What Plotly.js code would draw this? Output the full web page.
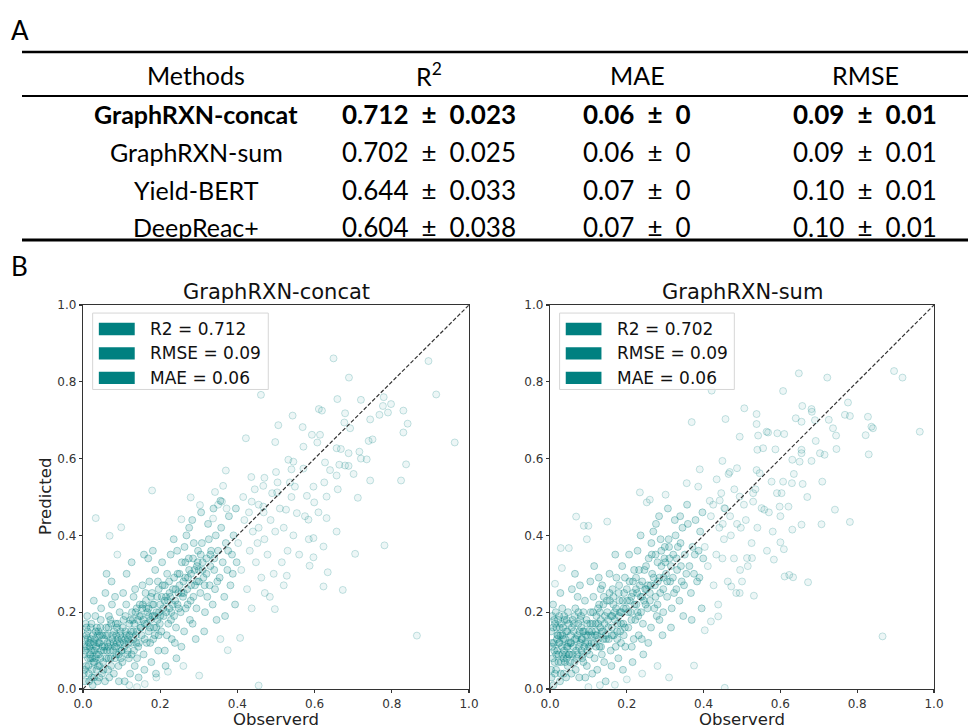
<!DOCTYPE html>
<html>
<head>
<meta charset="utf-8">
<script src="https://cdn.plot.ly/plotly-3.0.1.min.js"></script>
<style>html,body{margin:0;padding:0;background:#fff;}#chart{width:968px;height:728px;}</style>
</head>
<body>
<div id="chart"></div>
<script>
// ---------- Table A data ----------
const methods = ['GraphRXN-concat', 'GraphRXN-sum', 'Yield-BERT', 'DeepReac+'];
const r2Mean = [0.712, 0.702, 0.644, 0.604];
const r2Std = [0.023, 0.025, 0.033, 0.038];
const maeMean = [0.06, 0.06, 0.07, 0.07];
const maeStd = [0, 0, 0, 0];
const rmseMean = [0.09, 0.09, 0.10, 0.10];
const rmseStd = [0.01, 0.01, 0.01, 0.01];
const tableHeaders = ['Methods', 'R<sup>2</sup>', 'MAE', 'RMSE'];

// ---------- Panel B data ----------
const panelTitles = ['GraphRXN-concat', 'GraphRXN-sum'];
const concatStats = ['R2 = 0.712', 'RMSE = 0.09', 'MAE = 0.06'];
const sumStats = ['R2 = 0.702', 'RMSE = 0.09', 'MAE = 0.06'];
const axisTicks = [0, 0.2, 0.4, 0.6, 0.8, 1.0];
const diagonal = [0, 1];
const xTitle = 'Observerd';
const yTitle = 'Predicted';

const concatCore = [
[0.005,0.02],[0.008,0.06],[0.01,0.11],[0.012,0.15],[0.015,0.04],[0.018,0.09],[0.02,0.13],[0.022,0.17],[0.025,0.01],[0.027,0.07],[0.03,0.10],[0.032,0.19],[0.035,0.05],[0.037,0.12],[0.04,0.15],[0.042,0.03],[0.045,0.08],[0.047,0.21],[0.05,0.11],[0.003,0.09],[0.006,0.13],[0.009,0.16],[0.013,0.08],[0.016,0.02],[0.019,0.12],[0.023,0.05],[0.026,0.14],[0.029,0.03],[0.033,0.08],[0.036,0.16],[0.039,0.06],[0.043,0.12],[0.046,0.18],[0.049,0.04],[0.004,0.05],[0.011,0.19],[0.021,0.10],[0.031,0.13],[0.041,0.09],[0.028,0.23],[0.015,0.12],[0.038,0.02],[0.044,0.14],[0.007,0.17],[0.024,0.08],[0.034,0.11],
[0.052,0.07],[0.055,0.13],[0.057,0.02],[0.06,0.16],[0.062,0.10],[0.065,0.05],[0.067,0.19],[0.07,0.12],[0.072,0.08],[0.075,0.22],[0.077,0.14],[0.08,0.04],[0.082,0.11],[0.085,0.17],[0.087,0.09],[0.09,0.13],[0.092,0.06],[0.095,0.20],[0.097,0.15],[0.099,0.10],[0.058,0.25],[0.063,0.14],[0.068,0.03],[0.073,0.17],[0.078,0.10],[0.083,0.24],[0.088,0.12],[0.093,0.02],[0.096,0.12],[0.054,0.10],[0.066,0.08],[0.086,0.14],[0.074,0.28],[0.061,0.30],
[0.10,0.13],[0.102,0.07],[0.105,0.18],[0.107,0.11],[0.11,0.15],[0.112,0.22],[0.115,0.09],[0.117,0.13],[0.12,0.17],[0.122,0.04],[0.125,0.12],[0.127,0.20],[0.13,0.15],[0.132,0.10],[0.135,0.26],[0.137,0.14],[0.14,0.08],[0.142,0.18],[0.145,0.12],[0.147,0.22],[0.149,0.16],[0.104,0.25],[0.109,0.13],[0.119,0.08],[0.124,0.15],[0.129,0.18],[0.134,0.06],[0.139,0.21],[0.144,0.03],[0.113,0.30],[0.126,0.33],[0.118,0.12],[0.138,0.12],[0.108,0.02],[0.131,0.24],
[0.15,0.19],[0.152,0.14],[0.155,0.22],[0.157,0.09],[0.16,0.17],[0.162,0.25],[0.165,0.12],[0.167,0.20],[0.17,0.15],[0.172,0.28],[0.175,0.18],[0.177,0.07],[0.18,0.22],[0.182,0.13],[0.185,0.19],[0.187,0.31],[0.19,0.16],[0.192,0.24],[0.195,0.10],[0.197,0.20],[0.154,0.27],[0.159,0.05],[0.164,0.21],[0.169,0.34],[0.174,0.12],[0.179,0.25],[0.184,0.16],[0.189,0.04],[0.194,0.28],[0.199,0.17],[0.158,0.35],[0.171,0.19],[0.181,0.36],[0.196,0.14],
[0.20,0.22],[0.203,0.15],[0.206,0.27],[0.209,0.19],[0.212,0.10],[0.215,0.24],[0.218,0.30],[0.221,0.17],[0.224,0.21],[0.227,0.35],[0.23,0.13],[0.233,0.26],[0.236,0.19],[0.239,0.23],[0.242,0.08],[0.245,0.30],[0.248,0.21],[0.205,0.33],[0.211,0.23],[0.217,0.14],[0.223,0.28],[0.229,0.20],[0.235,0.39],[0.241,0.16],[0.247,0.25],[0.214,0.06],[0.226,0.24],[0.238,0.12],[0.244,0.36],
[0.25,0.27],[0.253,0.20],[0.256,0.33],[0.259,0.24],[0.262,0.15],[0.265,0.29],[0.268,0.40],[0.271,0.22],[0.274,0.34],[0.277,0.18],[0.28,0.27],[0.283,0.44],[0.286,0.24],[0.289,0.31],[0.292,0.13],[0.295,0.28],[0.298,0.36],[0.255,0.11],[0.263,0.37],[0.272,0.29],[0.279,0.23],[0.287,0.38],[0.294,0.21],[0.261,0.25],[0.275,0.42],[0.284,0.17],[0.297,0.33],[0.266,0.21],
[0.30,0.31],[0.304,0.25],[0.308,0.38],[0.312,0.29],[0.316,0.20],[0.32,0.34],[0.324,0.43],[0.328,0.27],[0.332,0.36],[0.336,0.22],[0.34,0.31],[0.344,0.40],[0.348,0.28],[0.306,0.46],[0.314,0.15],[0.322,0.24],[0.33,0.32],[0.338,0.47],[0.346,0.18],[0.31,0.33],[0.326,0.39],[0.342,0.26],
[0.35,0.36],[0.354,0.29],[0.358,0.42],[0.362,0.33],[0.366,0.24],[0.37,0.38],[0.374,0.31],[0.378,0.45],[0.382,0.27],[0.386,0.35],[0.39,0.40],[0.394,0.22],[0.398,0.33],[0.356,0.49],[0.368,0.19],[0.376,0.36],[0.388,0.30],[0.396,0.47],
[0.002,0.04],[0.006,0.10],[0.009,0.14],[0.014,0.06],[0.017,0.11],[0.02,0.16],[0.023,0.03],[0.026,0.10],[0.03,0.07],[0.033,0.15],[0.036,0.09],[0.04,0.12],[0.043,0.06],[0.047,0.10],[0.05,0.14],[0.053,0.05],[0.056,0.11],[0.06,0.08],[0.063,0.12],[0.066,0.16],[0.07,0.10],[0.073,0.06],[0.076,0.13],[0.08,0.15],[0.083,0.08],[0.086,0.11],[0.09,0.17],[0.093,0.09],[0.096,0.14],[0.1,0.10],[0.103,0.16],[0.106,0.12],[0.11,0.19],[0.113,0.14],[0.116,0.10],[0.12,0.14],[0.123,0.18],[0.126,0.09],[0.13,0.13],[0.133,0.17],[0.136,0.20],[0.14,0.15],[0.143,0.11],[0.146,0.19],[0.15,0.16],[0.153,0.21],[0.156,0.18],[0.16,0.13],[0.163,0.23],[0.166,0.17],[0.17,0.21],[0.173,0.16],[0.176,0.24],[0.18,0.19],[0.183,0.22],[0.186,0.14],[0.19,0.20],[0.193,0.18],[0.196,0.26],[0.2,0.19],[0.204,0.24],[0.208,0.21],[0.212,0.27],[0.216,0.20],[0.22,0.23],[0.224,0.25],[0.228,0.18],[0.232,0.22],[0.236,0.29],[0.24,0.26],[0.245,0.22],[0.25,0.30],[0.255,0.25],[0.26,0.28],[0.265,0.33],[0.27,0.26],[0.275,0.31],[0.28,0.30],[0.285,0.34],[0.29,0.27],[0.295,0.32],[0.3,0.28],[0.305,0.35],[0.31,0.31],[0.315,0.27],[0.32,0.30],[0.33,0.35],[0.34,0.34],[0.012,0.13],[0.028,0.12],[0.045,0.16],[0.058,0.14],[0.071,0.18],[0.088,0.16],[0.098,0.08],[0.004,0.11],[0.019,0.08],[0.038,0.14],[0.065,0.11],[0.079,0.12]
];

// sparse outer points of the cloud
const concatSparse = [
[0.402,0.38],[0.41,0.31],[0.418,0.44],[0.425,0.26],[0.432,0.36],[0.44,0.41],[0.448,0.33],[0.455,0.48],[0.462,0.29],[0.47,0.39],[0.478,0.35],[0.486,0.44],[0.494,0.30],[0.415,0.50],[0.437,0.21],[0.452,0.38],[0.468,0.46],[0.484,0.24],[0.498,0.41],[0.445,0.52],
[0.12,0.01],[0.16,0.013],[0.19,0.03],[0.22,0.045],[0.301,0.035],[0.26,0.06],[0.14,0.005],[0.455,0.009],[0.375,0.101],[0.407,0.133],[0.356,0.130],
[0.649,0.861],[0.895,0.854],[0.689,0.811],[0.915,0.767],[0.461,0.766],[0.659,0.755],[0.72,0.753],[0.779,0.76],[0.798,0.742],[0.777,0.737],[0.611,0.729],[0.619,0.725],[0.83,0.725],[0.543,0.712],[0.679,0.718],[0.677,0.694],[0.768,0.714],[0.744,0.702],[0.841,0.691],[0.506,0.687],[0.569,0.682],[0.692,0.679],[0.83,0.668],[0.593,0.662],[0.614,0.662],[0.422,0.653],[0.498,0.643],[0.571,0.631],[0.74,0.646],[0.607,0.642],[0.963,0.642],[0.657,0.627],[0.668,0.625],[0.688,0.614],[0.716,0.618],[0.735,0.598],[0.532,0.597],[0.545,0.592],[0.627,0.59],[0.837,0.585],[0.664,0.584],[0.679,0.582],[0.688,0.581],[0.54,0.572],[0.571,0.574],[0.37,0.569],[0.5,0.565],[0.701,0.56],[0.657,0.556],[0.436,0.552],[0.504,0.538],[0.536,0.538],[0.744,0.543],[0.824,0.543],[0.625,0.538],[0.179,0.517],[0.363,0.529],[0.342,0.513],[0.467,0.529],[0.549,0.527],[0.597,0.527],[0.503,0.512],[0.58,0.503],[0.631,0.501],[0.279,0.499],[0.712,0.498],[0.35,0.48],[0.36,0.488],[0.372,0.47],[0.437,0.488],[0.467,0.475],[0.599,0.486],[0.526,0.467],[0.554,0.458],[0.303,0.479],[0.033,0.445],[0.255,0.442],[0.337,0.444],[0.631,0.445],[0.584,0.441],[0.657,0.41],[0.597,0.393],[0.781,0.374],[0.623,0.371],[0.705,0.352],[0.069,0.399],[0.099,0.421],[0.089,0.35],[0.597,0.343],[0.587,0.321],[0.528,0.295],[0.634,0.304],[0.623,0.267],[0.673,0.258],[0.471,0.25],[0.497,0.208],[0.865,0.139],
[0.52,0.42],[0.53,0.36],[0.51,0.47],[0.545,0.40],[0.56,0.35],[0.575,0.45],[0.515,0.33],[0.54,0.50],[0.49,0.51],[0.47,0.55],[0.585,0.39],[0.61,0.46],[0.64,0.57],[0.66,0.52],[0.72,0.60],[0.75,0.65],[0.79,0.72],[0.52,0.27],[0.455,0.42],[0.43,0.46]
];

const sumCore = [
[0.004,0.03],[0.007,0.08],[0.01,0.12],[0.013,0.17],[0.016,0.05],[0.019,0.10],[0.021,0.14],[0.024,0.19],[0.026,0.02],[0.029,0.07],[0.031,0.11],[0.034,0.16],[0.036,0.04],[0.039,0.13],[0.041,0.09],[0.044,0.18],[0.046,0.06],[0.048,0.12],[0.003,0.15],[0.006,0.11],[0.009,0.01],[0.012,0.07],[0.015,0.20],[0.018,0.13],[0.022,0.09],[0.025,0.16],[0.028,0.04],[0.032,0.21],[0.035,0.08],[0.038,0.18],[0.042,0.03],[0.045,0.15],[0.049,0.09],[0.011,0.18],[0.023,0.12],[0.033,0.14],[0.043,0.11],[0.027,0.25],[0.008,0.22],[0.037,0.10],[0.047,0.20],[0.017,0.16],
[0.051,0.09],[0.054,0.14],[0.056,0.04],[0.059,0.18],[0.061,0.11],[0.064,0.07],[0.066,0.21],[0.069,0.13],[0.071,0.09],[0.074,0.17],[0.076,0.03],[0.079,0.12],[0.081,0.19],[0.084,0.08],[0.086,0.15],[0.089,0.11],[0.091,0.23],[0.094,0.14],[0.096,0.06],[0.099,0.12],[0.057,0.26],[0.062,0.15],[0.067,0.05],[0.072,0.24],[0.077,0.15],[0.082,0.10],[0.087,0.20],[0.092,0.03],[0.097,0.17],[0.053,0.12],[0.068,0.10],[0.083,0.13],[0.065,0.30],[0.078,0.27],
[0.101,0.15],[0.103,0.09],[0.106,0.20],[0.108,0.12],[0.111,0.17],[0.113,0.24],[0.116,0.08],[0.118,0.14],[0.121,0.19],[0.123,0.05],[0.126,0.13],[0.128,0.22],[0.131,0.16],[0.133,0.11],[0.136,0.27],[0.138,0.15],[0.141,0.07],[0.143,0.19],[0.146,0.13],[0.148,0.23],[0.105,0.28],[0.11,0.04],[0.12,0.11],[0.125,0.17],[0.13,0.20],[0.135,0.09],[0.14,0.24],[0.145,0.02],[0.115,0.32],[0.127,0.29],[0.119,0.15],[0.139,0.13],[0.132,0.26],[0.107,0.14],
[0.151,0.18],[0.153,0.13],[0.156,0.23],[0.158,0.10],[0.161,0.16],[0.163,0.26],[0.166,0.14],[0.168,0.20],[0.171,0.11],[0.173,0.29],[0.176,0.17],[0.178,0.08],[0.181,0.23],[0.183,0.15],[0.186,0.20],[0.188,0.32],[0.191,0.17],[0.193,0.25],[0.196,0.11],[0.198,0.21],[0.155,0.30],[0.16,0.06],[0.165,0.22],[0.17,0.35],[0.175,0.13],[0.18,0.27],[0.185,0.12],[0.19,0.05],[0.195,0.29],[0.162,0.19],[0.179,0.19],[0.192,0.14],
[0.201,0.23],[0.204,0.16],[0.207,0.28],[0.21,0.20],[0.213,0.11],[0.216,0.25],[0.219,0.31],[0.222,0.18],[0.225,0.22],[0.228,0.36],[0.231,0.14],[0.234,0.27],[0.237,0.20],[0.24,0.24],[0.243,0.09],[0.246,0.31],[0.249,0.22],[0.206,0.35],[0.212,0.24],[0.218,0.13],[0.224,0.29],[0.23,0.19],[0.236,0.40],[0.242,0.17],[0.248,0.26],[0.215,0.07],[0.227,0.25],[0.239,0.13],
[0.251,0.26],[0.254,0.21],[0.257,0.34],[0.26,0.23],[0.263,0.16],[0.266,0.30],[0.269,0.41],[0.272,0.21],[0.275,0.35],[0.278,0.19],[0.281,0.28],[0.284,0.45],[0.287,0.25],[0.29,0.32],[0.293,0.14],[0.296,0.29],[0.299,0.37],[0.256,0.12],[0.264,0.38],[0.273,0.27],[0.28,0.22],[0.288,0.39],[0.295,0.20],[0.262,0.27],[0.276,0.43],[0.285,0.18],[0.298,0.34],
[0.302,0.30],[0.305,0.24],[0.309,0.39],[0.313,0.28],[0.317,0.21],[0.321,0.35],[0.325,0.44],[0.329,0.26],[0.333,0.37],[0.337,0.23],[0.341,0.32],[0.345,0.42],[0.349,0.27],[0.307,0.47],[0.315,0.16],[0.323,0.25],[0.331,0.31],[0.339,0.45],[0.347,0.19],[0.311,0.34],[0.327,0.40],[0.343,0.28],
[0.351,0.35],[0.355,0.30],[0.359,0.43],[0.363,0.32],[0.367,0.25],[0.371,0.37],[0.375,0.30],[0.379,0.44],[0.383,0.28],[0.387,0.36],[0.391,0.41],[0.395,0.21],[0.399,0.34],[0.357,0.48],[0.369,0.18],[0.377,0.35],[0.389,0.29],[0.397,0.46],
[0.003,0.05],[0.005,0.12],[0.008,0.16],[0.013,0.04],[0.016,0.09],[0.019,0.14],[0.022,0.07],[0.025,0.12],[0.029,0.17],[0.032,0.09],[0.035,0.13],[0.039,0.07],[0.042,0.15],[0.046,0.11],[0.049,0.17],[0.052,0.07],[0.055,0.12],[0.059,0.09],[0.062,0.17],[0.065,0.13],[0.069,0.08],[0.072,0.14],[0.075,0.11],[0.079,0.18],[0.082,0.13],[0.085,0.09],[0.089,0.15],[0.092,0.12],[0.095,0.18],[0.099,0.14],[0.102,0.11],[0.105,0.17],[0.109,0.15],[0.112,0.20],[0.115,0.12],[0.119,0.17],[0.122,0.14],[0.125,0.21],[0.129,0.11],[0.132,0.18],[0.135,0.15],[0.139,0.22],[0.142,0.17],[0.145,0.14],[0.149,0.20],[0.152,0.16],[0.155,0.25],[0.159,0.19],[0.162,0.14],[0.165,0.24],[0.169,0.18],[0.172,0.21],[0.175,0.15],[0.179,0.25],[0.182,0.20],[0.185,0.17],[0.189,0.23],[0.192,0.21],[0.195,0.16],[0.2,0.26],[0.204,0.20],[0.208,0.23],[0.212,0.18],[0.216,0.28],[0.22,0.22],[0.224,0.26],[0.228,0.20],[0.232,0.31],[0.236,0.24],[0.24,0.28],[0.245,0.23],[0.25,0.32],[0.255,0.27],[0.26,0.25],[0.265,0.35],[0.27,0.29],[0.275,0.24],[0.28,0.33],[0.285,0.29],[0.29,0.36],[0.295,0.26],[0.3,0.33],[0.305,0.28],[0.31,0.37],[0.315,0.32],[0.32,0.29],[0.33,0.34],[0.34,0.38],[0.011,0.10],[0.027,0.14],[0.044,0.08],[0.057,0.16],[0.074,0.20],[0.087,0.07],[0.097,0.10],[0.006,0.19],[0.021,0.18],[0.037,0.19],[0.064,0.19],[0.081,0.16]
];

const sumSparse = [
[0.403,0.37],[0.411,0.32],[0.419,0.45],[0.426,0.27],[0.433,0.35],[0.441,0.42],[0.449,0.34],[0.456,0.47],[0.463,0.28],[0.471,0.40],[0.479,0.34],[0.487,0.43],[0.495,0.31],[0.416,0.49],[0.438,0.22],[0.453,0.39],[0.469,0.45],[0.485,0.25],[0.497,0.42],[0.446,0.51],
[0.13,0.01],[0.169,0.011],[0.20,0.025],[0.24,0.04],[0.31,0.03],[0.28,0.06],[0.10,0.005],[0.455,0.003],[0.375,0.061],[0.438,0.189],[0.419,0.176],[0.403,0.153],
[0.648,0.822],[0.722,0.811],[0.896,0.828],[0.918,0.811],[0.607,0.776],[0.421,0.777],[0.657,0.737],[0.681,0.729],[0.682,0.722],[0.506,0.731],[0.776,0.746],[0.538,0.716],[0.538,0.69],[0.768,0.714],[0.781,0.711],[0.828,0.709],[0.457,0.703],[0.64,0.705],[0.655,0.696],[0.837,0.683],[0.841,0.679],[0.726,0.701],[0.737,0.679],[0.369,0.695],[0.564,0.67],[0.568,0.668],[0.592,0.666],[0.61,0.664],[0.822,0.661],[0.963,0.67],[0.494,0.657],[0.542,0.66],[0.692,0.646],[0.54,0.623],[0.555,0.627],[0.587,0.624],[0.655,0.623],[0.655,0.614],[0.746,0.625],[0.83,0.611],[0.703,0.614],[0.449,0.594],[0.631,0.597],[0.65,0.592],[0.681,0.594],[0.468,0.565],[0.487,0.575],[0.39,0.572],[0.538,0.57],[0.546,0.562],[0.434,0.546],[0.577,0.54],[0.607,0.54],[0.63,0.536],[0.709,0.54],[0.658,0.534],[0.356,0.536],[0.386,0.527],[0.529,0.51],[0.591,0.51],[0.603,0.51],[0.234,0.512],[0.301,0.506],[0.494,0.501],[0.252,0.486],[0.26,0.493],[0.442,0.491],[0.454,0.471],[0.529,0.488],[0.551,0.471],[0.558,0.467],[0.598,0.475],[0.621,0.475],[0.742,0.467],[0.068,0.449],[0.149,0.436],[0.088,0.425],[0.1,0.425],[0.096,0.39],[0.781,0.435],[0.631,0.415],[0.655,0.428],[0.707,0.429],[0.6,0.382],[0.609,0.364],[0.583,0.337],[0.526,0.341],[0.513,0.341],[0.028,0.367],[0.049,0.367],[0.031,0.315],[0.013,0.274],[0.611,0.293],[0.623,0.297],[0.633,0.291],[0.672,0.278],[0.472,0.267],[0.494,0.25],[0.531,0.243],[0.866,0.137],
[0.51,0.44],[0.525,0.38],[0.505,0.48],[0.54,0.42],[0.565,0.36],[0.57,0.46],[0.515,0.32],[0.535,0.52],[0.48,0.52],[0.465,0.56],[0.58,0.41],[0.60,0.45],[0.635,0.56],[0.67,0.50],[0.715,0.61],[0.745,0.66],[0.69,0.70],[0.50,0.28],[0.45,0.43],[0.425,0.48]
];

// ---------- helpers ----------
const W = 968, H = 728;
const px = v => v / W;
const py = v => 1 - v / H;
const teal = '#008080';

const tableFont = 'Lato, Open Sans, sans-serif';
const plotFont = 'DejaVu Sans, sans-serif';

function fmtStd(v, d) { return v === 0 ? '0' : v.toFixed(d); }
const PM = '\u2002\u00b1\u2002';

const annotations = [];
const shapes = [];

// Panel labels
annotations.push({xref:'paper', yref:'paper', x:px(9), y:py(30), xanchor:'left', yanchor:'middle', text:'A', showarrow:false, font:{family:tableFont, size:26, color:'#000'}});
annotations.push({xref:'paper', yref:'paper', x:px(9), y:py(266), xanchor:'left', yanchor:'middle', text:'B', showarrow:false, font:{family:tableFont, size:26, color:'#000'}});

// Table rules
shapes.push({type:'line', xref:'paper', yref:'paper', x0:px(22), x1:px(968), y0:py(52), y1:py(52), line:{color:'#000', width:2.5}});
shapes.push({type:'line', xref:'paper', yref:'paper', x0:px(22), x1:px(968), y0:py(96), y1:py(96), line:{color:'#000', width:2}});
shapes.push({type:'line', xref:'paper', yref:'paper', x0:px(22), x1:px(968), y0:py(240), y1:py(240), line:{color:'#000', width:3}});

const colX = [196, 429, 637, 865];
const headerY = 75;
const rowY = [114, 152, 190, 227];
tableHeaders.forEach((h, i) => {
  annotations.push({xref:'paper', yref:'paper', x:px(colX[i]), y:py(headerY), xanchor:'center', yanchor:'middle', text:h, showarrow:false, font:{family:tableFont, size:25, color:'#000'}});
});
methods.forEach((m, r) => {
  const bold = r === 0;
  const wrap = s => bold ? '<b>' + s + '</b>' : s;
  const cells = [
    m,
    r2Mean[r].toFixed(3) + PM + fmtStd(r2Std[r], 3),
    maeMean[r].toFixed(2) + PM + fmtStd(maeStd[r], 2),
    rmseMean[r].toFixed(2) + PM + fmtStd(rmseStd[r], 2)
  ];
  cells.forEach((c, i) => {
    annotations.push({xref:'paper', yref:'paper', x:px(colX[i]), y:py(rowY[r]), xanchor:'center', yanchor:'middle', text:wrap(c), showarrow:false, font:{family:tableFont, size:i === 0 ? 25 : 26, color:'#000'}});
  });
});

// ---------- scatter panels ----------
const panels = [
  {core: concatCore, sparse: concatSparse, stats: concatStats, xa:'x', ya:'y', xref:'x domain', yref:'y domain'},
  {core: sumCore, sparse: sumSparse, stats: sumStats, xa:'x2', ya:'y2', xref:'x2 domain', yref:'y2 domain'}
];

const traces = [];
panels.forEach((p, k) => {
  traces.push({
    type:'scatter', mode:'markers', xaxis:p.xa, yaxis:p.ya,
    x: p.sparse.map(d => d[0]), y: p.sparse.map(d => d[1]),
    marker:{size:7, color:'rgba(0,128,128,0.07)', line:{color:'rgba(0,128,128,0.22)', width:1}},
    hoverinfo:'skip', showlegend:false
  });
  traces.push({
    type:'scatter', mode:'markers', xaxis:p.xa, yaxis:p.ya,
    x: p.core.map(d => d[0]), y: p.core.map(d => d[1]),
    marker:{size:7, color:'rgba(0,128,128,0.17)', line:{color:'rgba(0,128,128,0.32)', width:1}},
    hoverinfo:'skip', showlegend:false
  });
  traces.push({
    type:'scatter', mode:'lines', xaxis:p.xa, yaxis:p.ya,
    x: diagonal, y: diagonal,
    line:{color:'#333', width:1.2, dash:'4px,2px'},
    hoverinfo:'skip', showlegend:false
  });
  // title
  annotations.push({xref:p.xref, yref:p.yref, x:0.5, y:1, xanchor:'center', yanchor:'bottom', yshift:-1, text:panelTitles[k], showarrow:false, font:{family:plotFont, size:21, color:'#111'}});
  // x-axis title
  annotations.push({xref:p.xref, yref:'paper', x:0.5, y:py(719), xanchor:'center', yanchor:'middle', text:xTitle, showarrow:false, font:{family:plotFont, size:16.5, color:'#222'}});
  // legend box
  shapes.push({type:'rect', xref:p.xref, yref:p.yref, x0:0.025, x1:0.48, y0:0.78, y1:0.979, line:{color:'#d6d6d6', width:1}, fillcolor:'rgba(255,255,255,0.85)', layer:'above'});
  const rowsY = [0.9375, 0.874, 0.81];
  p.stats.forEach((s, j) => {
    shapes.push({type:'rect', xref:p.xref, yref:p.yref, x0:0.041, x1:0.134, y0:rowsY[j]-0.016, y1:rowsY[j]+0.016, line:{width:0}, fillcolor:teal, layer:'above'});
    annotations.push({xref:p.xref, yref:p.yref, x:0.168, y:rowsY[j], xanchor:'left', yanchor:'middle', text:s, showarrow:false, font:{family:plotFont, size:17, color:'#111'}});
  });
});
// y-axis title (left panel only)
annotations.push({xref:'paper', yref:'y domain', x:px(45), y:0.5, xanchor:'center', yanchor:'middle', textangle:-90, text:yTitle, showarrow:false, font:{family:plotFont, size:16.5, color:'#222'}});

const axisBase = {
  range:[0,1], showgrid:false, zeroline:false, showline:true, mirror:true,
  linecolor:'#333', linewidth:1.2, ticks:'outside', ticklen:3, tickwidth:1.2, tickcolor:'#333',
  tickvals:axisTicks, tickformat:'.1f', tickfont:{family:plotFont, size:12, color:'#333'},
  fixedrange:true
};

const layout = {
  width:W, height:H, margin:{l:0, r:0, t:0, b:0},
  paper_bgcolor:'#fff', plot_bgcolor:'#fff', showlegend:false,
  xaxis:Object.assign({}, axisBase, {domain:[px(83), px(469)], anchor:'y'}),
  yaxis:Object.assign({}, axisBase, {domain:[py(689), py(305)], anchor:'x'}),
  xaxis2:Object.assign({}, axisBase, {domain:[px(550), px(934)], anchor:'y2'}),
  yaxis2:Object.assign({}, axisBase, {domain:[py(689), py(305)], anchor:'x2'}),
  annotations:annotations, shapes:shapes
};

Plotly.newPlot('chart', traces, layout, {displayModeBar:false, staticPlot:true});
</script>
</body>
</html>
